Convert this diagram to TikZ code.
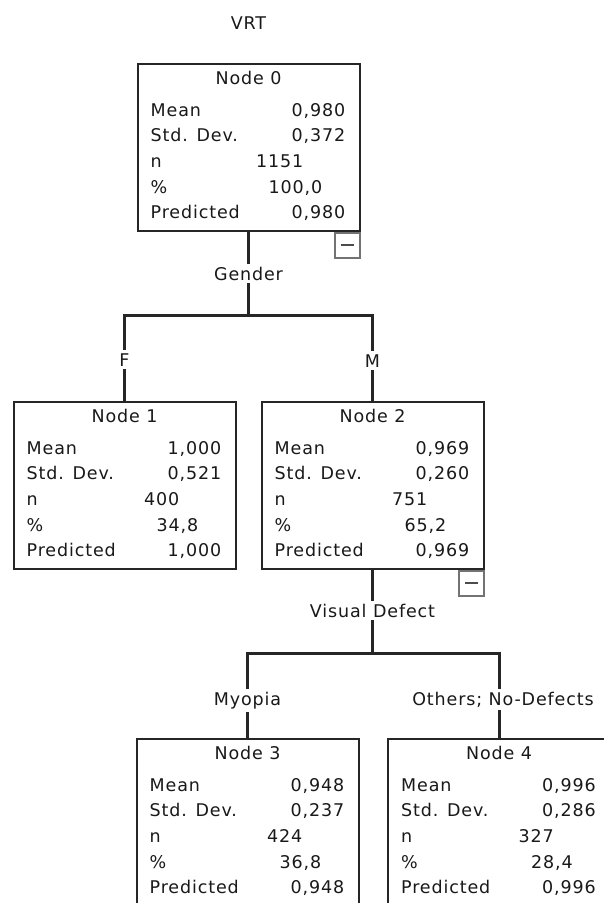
\documentclass[tikz,border=0pt]{standalone}
\usepackage{fontspec}
\setmainfont{DejaVu Sans}[LetterSpace=5]
\usetikzlibrary{positioning}

% box of the tree: name, centre x, top y, title, mean, std, n, pct, predicted
\newcommand{\statbox}[9]{%
  \node[box, anchor=north] (#1) at (#2,#3) {};
  \node[txt, anchor=base] (#1-t) at ([yshift=-21pt]#1.north) {#4};
  \foreach \lab/\val/\dx [count=\i] in {Mean/{#5}/15, {Std. Dev.}/{#6}/15, n/{#7}/57, {\%}/{#8}/38, Predicted/{#9}/15}{
    \node[txt, anchor=base west] (#1-l\i) at ([xshift=14pt, yshift={-(27.3+25.7*\i)*1pt}]#1.north west) {\lab};
    \node[txt, anchor=base east] (#1-v\i) at ([xshift={-\dx*1pt}, yshift={-(27.3+25.7*\i)*1pt}]#1.north east) {\val};
  }
}

\begin{document}
\begin{tikzpicture}[x=1pt, y=-1pt,
  box/.style={draw=black!85, line width=2pt, fill=white, minimum width=222pt, minimum height=167pt, inner sep=0pt},
  txt/.style={inner sep=0pt, text=black!90, font=\fontsize{17.5}{20}\selectfont},
  cut/.style={txt, fill=white, inner sep=3pt},
  link/.style={draw=black!85, line width=3pt},
  toggle/.style={draw=black!55, line width=1.5pt, fill=white, minimum width=25pt, minimum height=25pt, inner sep=0pt}]
\useasboundingbox (0,0) rectangle (604,903);
\clip (0,0) rectangle (604,903);

\node[txt, anchor=base] (vrt) at (248.5,29) {VRT};

\statbox{n0}{248.5}{63}{Node 0}{0,980}{0,372}{1151}{100,0}{0,980}
\statbox{n1}{124.5}{401}{Node 1}{1,000}{0,521}{400}{34,8}{1,000}
\statbox{n2}{372.5}{401}{Node 2}{0,969}{0,260}{751}{65,2}{0,969}
\statbox{n3}{247.5}{738}{Node 3}{0,948}{0,237}{424}{36,8}{0,948}
\statbox{n4}{499}{738}{Node 4}{0,996}{0,286}{327}{28,4}{0,996}

% collapse buttons
\node[toggle, anchor=north east] (n0-m) at (n0.south east) {\color{black!70}\rule[-1pt]{13pt}{2pt}};
\node[toggle, anchor=north east] (n2-m) at (n2.south east) {\color{black!70}\rule[-1pt]{13pt}{2pt}};

% splits
\coordinate (bar0) at (248.5,315);
\coordinate (bar1) at (372.5,653);
\draw[link] (n0.south) -- (bar0);
\draw[link] (n1.north) |- (bar0) -| (n2.north);
\draw[link] (n2.south) -- (bar1);
\draw[link] (n3.north) |- (bar1) -| (n4.north);

\node[cut, anchor=base] (split0) at (248.5,280) {Gender};
\node[cut, anchor=base] (lf) at (124.5,366) {F};
\node[cut, anchor=base] (lm) at (372.5,367) {M};
\node[cut, anchor=base] (split1) at (372.5,617) {Visual Defect};
\node[cut, anchor=base] (lmy) at (247.5,705) {Myopia};
\node[cut, anchor=base] (lot) at (503,705) {Others; No-Defects};
\end{tikzpicture}
\end{document}
